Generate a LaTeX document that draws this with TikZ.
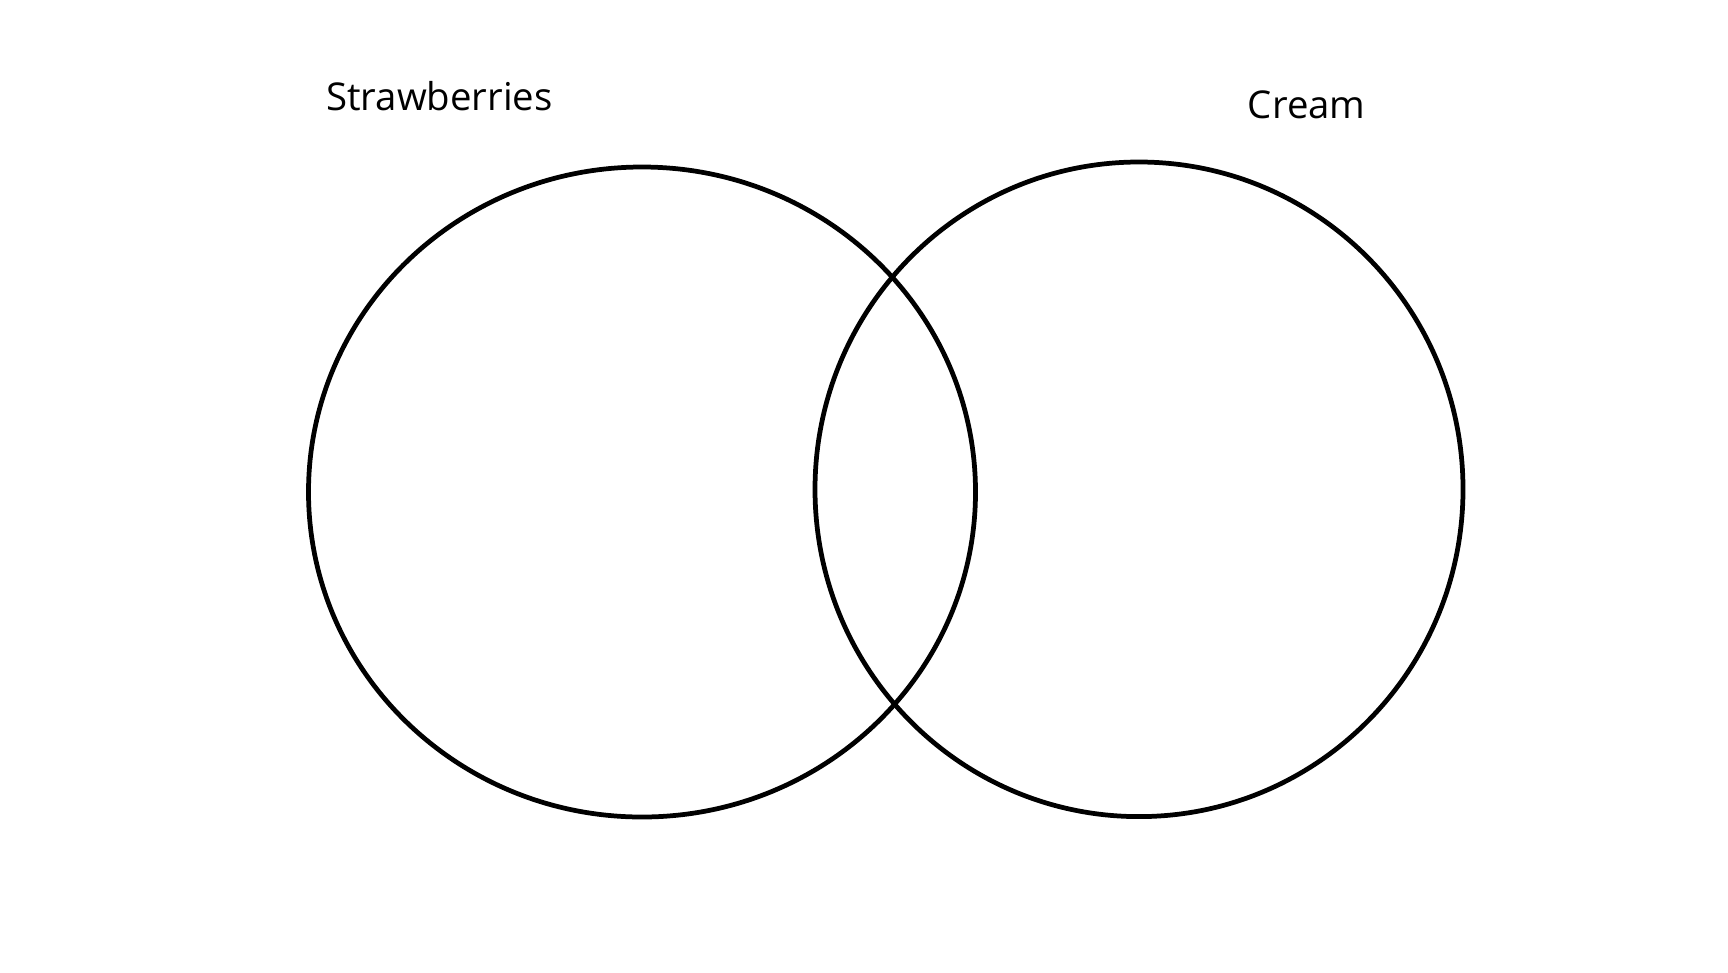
\documentclass[tikz,border=0pt]{standalone}
\usepackage{fontspec}
\setmainfont{Open Sans}
\begin{document}
\begin{tikzpicture}[x=0.01cm,y=-0.01cm,
  setring/.style={draw=black,line width=1.35pt},
  setlabel/.style={inner sep=0pt,anchor=base,font=\fontsize{10.9}{13}\selectfont}]
\useasboundingbox (0,0) rectangle (1728,972);
% two overlapping sets
\draw[setring] (642,492) ellipse [x radius=333.5,y radius=325];
\draw[setring] (1139,489.3) ellipse [x radius=324,y radius=327.3];
% set names
\node[setlabel] (straw) at (439.5,110) {Strawberries};
\node[setlabel] (cream) at (1306.7,118.5) {Cream};
\end{tikzpicture}
\end{document}
